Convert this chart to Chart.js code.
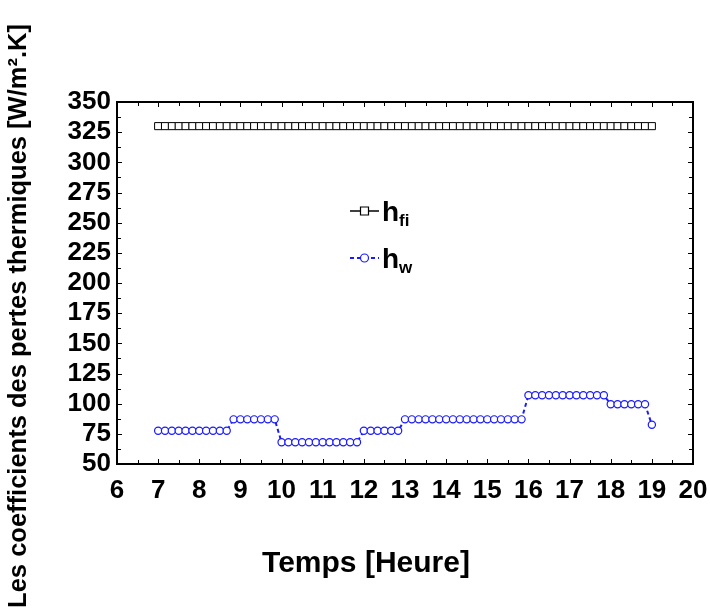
<!DOCTYPE html>
<html lang="fr">
<head>
  <meta charset="UTF-8" />
  <title>Coefficients des pertes thermiques</title>
  <script src="https://cdn.jsdelivr.net/npm/chart.js"></script>
  <style>
    html, body { margin: 0; padding: 0; background: #fff; }
    #wrap { width: 710px; height: 615px; position: relative; }
  </style>
</head>
<body>
  <div id="wrap"><canvas id="chart" width="710" height="615"></canvas></div>

  <script>
    // heure de mesure, pas de 10 minutes
    const times = [
      "07:00","07:10","07:20","07:30","07:40","07:50",
      "08:00","08:10","08:20","08:30","08:40","08:50",
      "09:00","09:10","09:20","09:30","09:40","09:50",
      "10:00","10:10","10:20","10:30","10:40","10:50",
      "11:00","11:10","11:20","11:30","11:40","11:50",
      "12:00","12:10","12:20","12:30","12:40","12:50",
      "13:00","13:10","13:20","13:30","13:40","13:50",
      "14:00","14:10","14:20","14:30","14:40","14:50",
      "15:00","15:10","15:20","15:30","15:40","15:50",
      "16:00","16:10","16:20","16:30","16:40","16:50",
      "17:00","17:10","17:20","17:30","17:40","17:50",
      "18:00","18:10","18:20","18:30","18:40","18:50",
      "19:00"
    ];

    // h_fi [W/m².K]
    const hfi = [
      330,330,330,330,330,330, 330,330,330,330,330,330,
      330,330,330,330,330,330, 330,330,330,330,330,330,
      330,330,330,330,330,330, 330,330,330,330,330,330,
      330,330,330,330,330,330, 330,330,330,330,330,330,
      330,330,330,330,330,330, 330,330,330,330,330,330,
      330,330,330,330,330,330, 330,330,330,330,330,330,
      330
    ];

    // h_w [W/m².K]
    const hw = [
      77.5,77.5,77.5,77.5,77.5,77.5, 77.5,77.5,77.5,77.5,77.5,87,
      87,87,87,87,87,87,             68,68,68,68,68,68,
      68,68,68,68,68,68,             77.5,77.5,77.5,77.5,77.5,77.5,
      87,87,87,87,87,87,             87,87,87,87,87,87,
      87,87,87,87,87,87,             107,107,107,107,107,107,
      107,107,107,107,107,107,       99.5,99.5,99.5,99.5,99.5,99.5,
      82.5
    ];

    const xTicks = [6, 7, 8, 9, 10, 11, 12, 13, 14, 15, 16, 17, 18, 19, 20];
    const yTicks = [50, 75, 100, 125, 150, 175, 200, 225, 250, 275, 300, 325, 350];

    const xTitle = "Temps [Heure]";
    const yTitle = "Les coefficients des pertes thermiques [W/m².K]";

    const toHour = t => { const [h, m] = t.split(":"); return +h + (+m) / 60; };
    const pts = arr => arr.map((v, i) => ({ x: toHour(times[i]), y: v }));

    const FONT = "Arial, 'Liberation Sans', sans-serif";

    // ticks vers l'intérieur sur les quatre côtés + cadre
    const frame = {
      id: "frame",
      afterDraw(chart) {
        const { ctx, chartArea: a, scales: { x, y } } = chart;
        ctx.save();
        ctx.strokeStyle = "#000";
        ctx.lineWidth = 1;
        ctx.beginPath();
        for (let v = xTicks[0]; v <= xTicks[xTicks.length - 1]; v += 0.5) {
          const px = Math.round(x.getPixelForValue(v)) + 0.5;
          const len = Number.isInteger(v) ? 5 : 4;
          ctx.moveTo(px, a.bottom); ctx.lineTo(px, a.bottom - len);
          ctx.moveTo(px, a.top); ctx.lineTo(px, a.top + len);
        }
        for (let v = yTicks[0]; v <= yTicks[yTicks.length - 1]; v += 12.5) {
          const py = Math.round(y.getPixelForValue(v)) + 0.5;
          const len = v % 25 === 0 ? 5 : 4;
          ctx.moveTo(a.left, py); ctx.lineTo(a.left + len, py);
          ctx.moveTo(a.right, py); ctx.lineTo(a.right - len, py);
        }
        ctx.stroke();
        ctx.lineWidth = 2;
        ctx.strokeRect(a.left, a.top, a.right - a.left, a.bottom - a.top);
        ctx.restore();
      }
    };

    // titres des axes
    const axisTitles = {
      id: "axisTitles",
      afterDraw(chart) {
        const { ctx } = chart;
        ctx.save();
        ctx.fillStyle = "#000";
        ctx.textAlign = "center";
        ctx.textBaseline = "middle";
        ctx.font = "bold 30px " + FONT;
        ctx.fillText(xTitle, 366, 564);
        ctx.translate(19, 316);
        ctx.rotate(-Math.PI / 2);
        ctx.font = "bold 25.5px " + FONT;
        ctx.fillText(yTitle, 0, 0);
        ctx.restore();
      }
    };

    // légende avec indices
    const legendSub = {
      id: "legendSub",
      afterDraw(chart) {
        const { ctx } = chart;
        const items = [
          { main: "h", sub: "fi", y: 211, color: "#000", dash: [], style: "rect" },
          { main: "h", sub: "w", y: 258, color: "#1a1aff", dash: [4, 3], style: "circle" }
        ];
        ctx.save();
        items.forEach(it => {
          ctx.strokeStyle = it.color;
          ctx.lineWidth = it.style === "rect" ? 1.5 : 2;
          ctx.setLineDash(it.dash);
          ctx.beginPath();
          ctx.moveTo(350, it.y); ctx.lineTo(379, it.y);
          ctx.stroke();
          ctx.setLineDash([]);
          ctx.fillStyle = "#fff";
          ctx.lineWidth = 1.2;
          ctx.beginPath();
          if (it.style === "rect") ctx.rect(360.5, it.y - 4, 8, 8);
          else ctx.arc(364.5, it.y, 4, 0, Math.PI * 2);
          ctx.fill(); ctx.stroke();
          ctx.fillStyle = "#000";
          ctx.textBaseline = "alphabetic";
          ctx.font = "bold 28px " + FONT;
          ctx.fillText(it.main, 382, it.y + 10);
          const w = ctx.measureText(it.main).width;
          ctx.font = "bold 17px " + FONT;
          ctx.fillText(it.sub, 382 + w, it.y + 15);
        });
        ctx.restore();
      }
    };

    new Chart(document.getElementById("chart"), {
      type: "line",
      data: {
        datasets: [
          {
            label: "h_fi",
            data: pts(hfi),
            borderColor: "#000",
            borderWidth: 1,
            pointStyle: "rect",
            pointRadius: 5,
            pointBorderWidth: 1,
            pointBorderColor: "#000",
            pointBackgroundColor: "#fff"
          },
          {
            label: "h_w",
            data: pts(hw),
            borderColor: "#1a1aff",
            borderWidth: 2,
            borderDash: [4, 3],
            pointStyle: "circle",
            pointRadius: 3.6,
            pointBorderWidth: 1.2,
            pointBorderColor: "#1a1aff",
            pointBackgroundColor: "#fff"
          }
        ]
      },
      options: {
        responsive: false,
        animation: false,
        layout: { padding: { top: 102, right: 17, left: 0, bottom: 0 } },
        plugins: { legend: { display: false }, tooltip: { enabled: false } },
        scales: {
          x: {
            type: "linear",
            min: 6, max: 20,
            afterBuildTicks: s => { s.ticks = xTicks.map(v => ({ value: v })); },
            afterFit: s => { s.height = 151; s.paddingLeft = 0; s.paddingRight = 0; },
            grid: { display: false, drawTicks: false },
            border: { display: false },
            ticks: { color: "#000", padding: 11, autoSkip: false, font: { family: FONT, size: 26, weight: "bold" }, maxRotation: 0 },
            title: { display: false, text: xTitle }
          },
          y: {
            min: 50, max: 350,
            afterBuildTicks: s => { s.ticks = yTicks.map(v => ({ value: v })); },
            afterFit: s => { s.width = 117; s.paddingTop = 0; s.paddingBottom = 0; },
            grid: { display: false, drawTicks: false },
            border: { display: false },
            ticks: { color: "#000", padding: 6, autoSkip: false, font: { family: FONT, size: 26, weight: "bold" } },
            title: { display: false, text: yTitle }
          }
        }
      },
      plugins: [frame, axisTitles, legendSub]
    });
  </script>
</body>
</html>
